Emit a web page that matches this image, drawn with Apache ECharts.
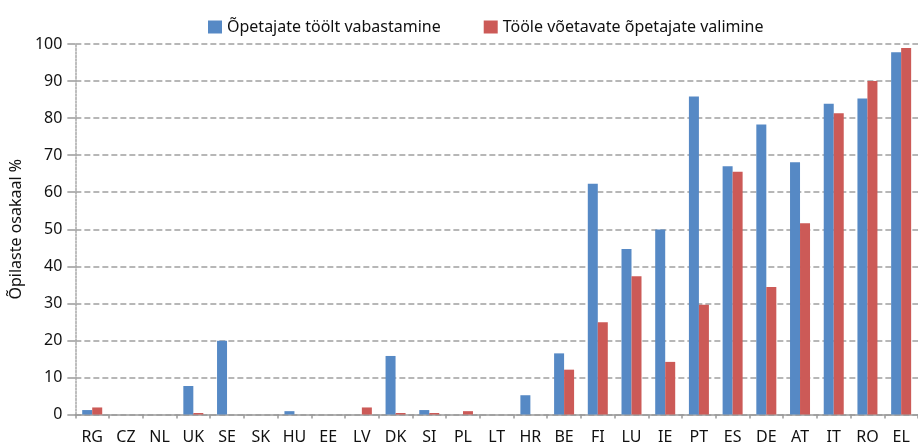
<!DOCTYPE html>
<html><head><meta charset="utf-8">
<script src="https://cdn.jsdelivr.net/npm/echarts@6/dist/echarts.min.js"></script>
<style>html,body{margin:0;padding:0;background:#fff}#c{width:918px;height:446px}</style>
</head><body><div id="c"></div>
<script>
const categories = ['RG','CZ','NL','UK','SE','SK','HU','EE','LV','DK','SI','PL','LT','HR','BE','FI','LU','IE','PT','ES','DE','AT','IT','RO','EL'];
const seriesNames = ['Õpetajate töölt vabastamine','Tööle võetavate õpetajate valimine'];
const dismissal = [1.2,0,0,7.7,19.9,0,0.9,0,0,15.8,1.2,0,0,5.2,16.5,62.3,44.7,49.9,85.8,67.0,78.3,68.1,83.9,85.3,97.8];
const selection = [1.9,0,0,0.4,0,0,0,0,1.9,0.4,0.4,0.9,0,0,12.1,24.9,37.3,14.2,29.6,65.5,34.4,51.6,81.3,90.0,98.9];
const yTicks = {min:0,max:100,interval:10};
const yName = 'Õpilaste osakaal %';

const font = 'Noto Sans';
const chart = echarts.init(document.getElementById('c'));
chart.setOption({
  animation:false,
  textStyle:{fontFamily:font},
  legend:{left:203,top:14,itemWidth:14,itemHeight:13,itemGap:43,icon:'rect',
    textStyle:{fontFamily:font,fontSize:16,color:'#111'},data:seriesNames},
  grid:{left:68,right:-6,top:44,bottom:31.5,containLabel:false},
  xAxis:{type:'category',data:categories,
    axisLine:{lineStyle:{color:'#9a9a9a',width:1.5}},
    axisTick:{show:true,length:4,lineStyle:{color:'#9a9a9a',width:1.5}},
    axisLabel:{fontFamily:font,fontSize:16,color:'#111',margin:15,interval:0}},
  yAxis:{type:'value',min:yTicks.min,max:yTicks.max,interval:yTicks.interval,
    name:yName,nameLocation:'middle',nameGap:51,nameRotate:90,
    nameTextStyle:{fontFamily:font,fontSize:16,color:'#111'},
    axisLine:{show:true,lineStyle:{color:'#a8a8a8',width:1.5,type:[2,1.5]}},
    axisTick:{show:true,length:8,lineStyle:{color:'#9a9a9a',width:1.5}},
    axisLabel:{fontFamily:font,fontSize:16,color:'#111',margin:13},
    splitLine:{show:true,lineStyle:{color:'#a0a0a0',width:1.5,type:[6,3]}}},
  series:[
    {name:seriesNames[0],type:'bar',data:dismissal,barWidth:10,barGap:'0%',
      itemStyle:{color:'#5689c5'}},
    {name:seriesNames[1],type:'bar',data:selection,barWidth:10,barGap:'0%',
      itemStyle:{color:'#cc5a57'}}
  ]
});
</script></body></html>
